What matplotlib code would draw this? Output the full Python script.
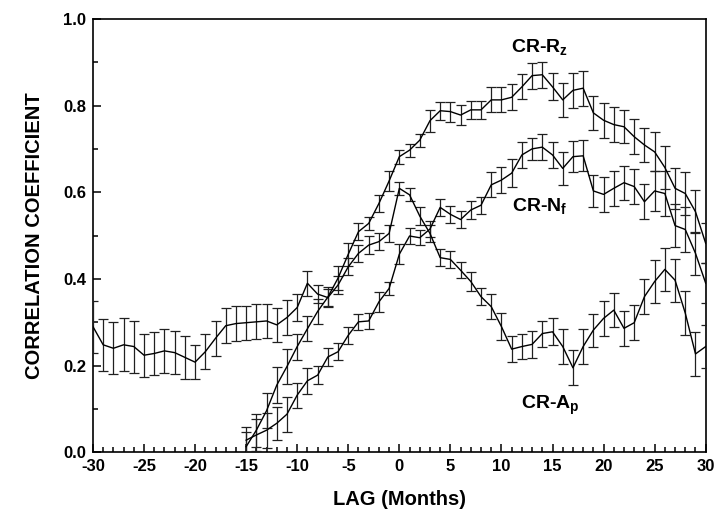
import numpy as np
import matplotlib
matplotlib.use("Agg")
import matplotlib.pyplot as plt
from matplotlib.ticker import MultipleLocator, FormatStrFormatter

plt.rcParams['font.family'] = ['Liberation Sans', 'DejaVu Sans']
plt.rcParams['font.weight'] = 'bold'
plt.rcParams['axes.unicode_minus'] = False
plt.rcParams['mathtext.fontset'] = 'custom'
plt.rcParams['mathtext.rm'] = 'Liberation Sans:bold'
plt.rcParams['mathtext.bf'] = 'Liberation Sans:bold'
plt.rcParams['mathtext.it'] = 'Liberation Sans:bold'

# ---- data ----
lag_rz = list(range(-15, 31))
cr_rz = [0.013, 0.051, 0.096, 0.155, 0.198, 0.244, 0.285, 0.325, 0.358, 0.402,
         0.457, 0.509, 0.528, 0.574, 0.626, 0.682, 0.697, 0.720, 0.765, 0.788,
         0.786, 0.778, 0.790, 0.790, 0.813, 0.813, 0.819, 0.843, 0.869, 0.871,
         0.843, 0.813, 0.835, 0.840, 0.783, 0.766, 0.756, 0.751, 0.728, 0.709,
         0.693, 0.657, 0.609, 0.597, 0.555, 0.482]
err_rz = [0.035, 0.038, 0.040, 0.041, 0.040, 0.030, 0.029, 0.029, 0.023, 0.027,
          0.027, 0.019, 0.015, 0.019, 0.023, 0.016, 0.015, 0.015, 0.025, 0.021,
          0.023, 0.023, 0.021, 0.021, 0.029, 0.029, 0.030, 0.029, 0.030, 0.030,
          0.031, 0.040, 0.040, 0.040, 0.040, 0.040, 0.040, 0.038, 0.040, 0.039,
          0.045, 0.050, 0.047, 0.050, 0.049, 0.046]

lag_nf = list(range(-15, 31))
cr_nf = [0.028, 0.040, 0.051, 0.067, 0.088, 0.132, 0.165, 0.178, 0.220, 0.232,
         0.270, 0.301, 0.303, 0.347, 0.378, 0.457, 0.499, 0.495, 0.515, 0.565,
         0.549, 0.537, 0.559, 0.570, 0.617, 0.628, 0.644, 0.686, 0.700, 0.704,
         0.686, 0.655, 0.682, 0.684, 0.603, 0.595, 0.609, 0.622, 0.613, 0.578,
         0.603, 0.597, 0.523, 0.514, 0.459, 0.390]
err_nf = [0.030, 0.038, 0.040, 0.038, 0.040, 0.029, 0.030, 0.021, 0.021, 0.020,
          0.019, 0.019, 0.018, 0.023, 0.015, 0.023, 0.018, 0.017, 0.018, 0.019,
          0.019, 0.019, 0.020, 0.020, 0.029, 0.030, 0.033, 0.030, 0.026, 0.030,
          0.031, 0.038, 0.036, 0.036, 0.036, 0.040, 0.040, 0.039, 0.040, 0.040,
          0.047, 0.052, 0.050, 0.052, 0.050, 0.046]

lag_ap = list(range(-30, 31))
cr_ap = [0.290, 0.248, 0.240, 0.248, 0.244, 0.224, 0.228, 0.234, 0.230, 0.219,
         0.208, 0.232, 0.263, 0.292, 0.297, 0.299, 0.301, 0.303, 0.294, 0.311,
         0.334, 0.390, 0.365, 0.357, 0.386, 0.428, 0.459, 0.478, 0.486, 0.505,
         0.609, 0.594, 0.545, 0.505, 0.449, 0.445, 0.420, 0.394, 0.359, 0.336,
         0.290, 0.238, 0.244, 0.249, 0.274, 0.278, 0.244, 0.195, 0.244, 0.282,
         0.309, 0.328, 0.286, 0.299, 0.359, 0.394, 0.422, 0.397, 0.321, 0.227,
         0.244]
err_ap = [0.060, 0.060, 0.060, 0.061, 0.060, 0.050, 0.050, 0.050, 0.050, 0.050,
          0.040, 0.040, 0.040, 0.040, 0.040, 0.039, 0.040, 0.039, 0.040, 0.040,
          0.031, 0.029, 0.021, 0.020, 0.020, 0.020, 0.020, 0.020, 0.020, 0.020,
          0.015, 0.015, 0.020, 0.020, 0.019, 0.019, 0.019, 0.021, 0.020, 0.029,
          0.031, 0.030, 0.029, 0.031, 0.030, 0.031, 0.040, 0.040, 0.040, 0.038,
          0.040, 0.040, 0.040, 0.040, 0.040, 0.050, 0.050, 0.050, 0.050, 0.050,
          0.050]

labels = ['CR-R$_{z}$', 'CR-N$_{f}$', 'CR-A$_{p}$']
label_pos = [(10.9, 0.924), (11.0, 0.557), (11.9, 0.100)]

# ---- figure ----
fig = plt.figure(figsize=(7.15, 5.13), dpi=100)
ax = fig.add_axes([0.130, 0.1183, 0.857, 0.845])

for x, y, e in [(lag_rz, cr_rz, err_rz), (lag_nf, cr_nf, err_nf), (lag_ap, cr_ap, err_ap)]:
    ax.errorbar(x, y, yerr=e, color='black', lw=1.0, elinewidth=0.9,
                capsize=3.8, capthick=0.9, ecolor='#202020', zorder=3)

for txt, (x, y) in zip(labels, label_pos):
    ax.text(x, y, txt, fontsize=14, fontweight='bold', ha='left', va='baseline')

ax.set_xlim(-30, 30)
ax.set_ylim(0, 1.0)
ax.xaxis.set_major_locator(MultipleLocator(5))
ax.xaxis.set_minor_locator(MultipleLocator(1))
ax.yaxis.set_major_locator(MultipleLocator(0.2))
ax.yaxis.set_minor_locator(MultipleLocator(0.1))
ax.yaxis.set_major_formatter(FormatStrFormatter('%.1f'))

ax.tick_params(which='both', direction='in', top=False, right=False, width=1.1)
ax.tick_params(which='major', length=6, labelsize=12, pad=5)
ax.tick_params(which='minor', length=3.5)
for lab in ax.get_xticklabels() + ax.get_yticklabels():
    lab.set_fontweight('bold')
for s in ax.spines.values():
    s.set_linewidth(1.2)

ax.set_xlabel('LAG (Months)', fontsize=14.5, fontweight='bold', labelpad=11)
ax.set_ylabel('CORRELATION COEFFICIENT', fontsize=14.5, fontweight='bold', labelpad=14)

fig.savefig('out.png', dpi=100)
